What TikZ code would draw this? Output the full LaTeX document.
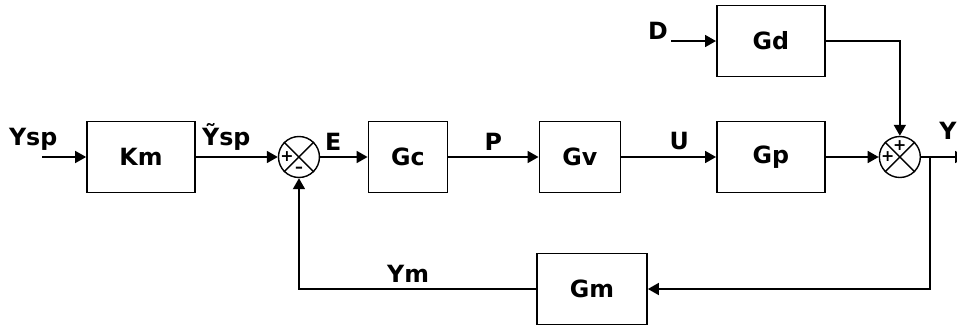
\documentclass[tikz,border=0pt]{standalone}
\usepackage{fontspec}
\setmainfont{DejaVu Sans}
\usetikzlibrary{arrows.meta}

\begin{document}
\begin{tikzpicture}[x=0.02cm, y=-0.02cm, line width=1pt, >={Triangle[length=2.2mm,width=2.4mm]},
  block/.style = {draw, rectangle, minimum width=2.16cm, minimum height=1.42cm, font=\fontsize{13.5}{15}\selectfont\bfseries},
  sum/.style = {draw, circle, minimum size=0.82cm, inner sep=0pt, line width=0.8pt},
  lbl/.style = {font=\fontsize{13.5}{15}\selectfont\bfseries},
  sign/.style = {font=\fontsize{9}{10}\selectfont\bfseries, inner sep=0pt}]
\useasboundingbox (0,0) rectangle (957,331);
\node[block] (km) at (141,157) {Km};
\node[sum] (s1) [right of=km, node distance=3.16cm] {};
\node[block, minimum width=1.58cm] (gc) [right of=s1, node distance=2.18cm] {Gc};
\node[block, minimum width=1.62cm] (gv) [right of=gc, node distance=3.44cm] {Gv};
\node[block] (gp) [right of=gv, node distance=3.82cm] {Gp};
\node[sum] (s2) [right of=gp, node distance=2.58cm] {};
\node[block] (gd) [above of=gp, node distance=2.32cm] {Gd};
\node[block, minimum width=2.2cm] (gm) at (592,289) {Gm};
% crosses and signs of the summing points
\draw[line width=0.8pt] (s1.north west) -- (s1.south east) (s1.north east) -- (s1.south west);
\draw[line width=0.8pt] (s2.north west) -- (s2.south east) (s2.north east) -- (s2.south west);
\node[sign] (p1) at ([xshift=-0.24cm]s1.center) {+};
\node[sign] (m1) at ([yshift=-0.25cm]s1.center) {–};
\node[sign] (p2) at ([yshift=0.23cm]s2.center) {+};
\node[sign] (p3) at ([xshift=-0.24cm]s2.center) {+};
% free ends
\coordinate (in) at (42,157);
\coordinate (d) at (671,41);
\coordinate (br) at (930,157);
\coordinate (out) at (966,157);
\draw[->] (in) -- node[lbl, above left, pos=0.5] {Ysp} (km);
\draw[->] (km) -- node[lbl, above, xshift=-6] {Ỹsp} (s1);
\draw[->] (s1) -- node[lbl, above, xshift=-6] {E} (gc);
\draw[->] (gc) -- node[lbl, above] {P} (gv);
\draw[->] (gv) -- node[lbl, above, xshift=6] {U} (gp);
\draw[->] (gp) -- (s2);
\draw[->] (d) -- node[lbl, above left, pos=0, xshift=2, yshift=-3] {D} (gd);
\draw[->] (gd) -| (s2);
\draw[->] (s2) -- node[lbl, above, pos=0.6, yshift=6] {Y} (out);
\draw[->] (br) |- (gm);
\draw[->] (gm) -| node[lbl, above, pos=0.27] {Ym} (s1);
\end{tikzpicture}
\end{document}
